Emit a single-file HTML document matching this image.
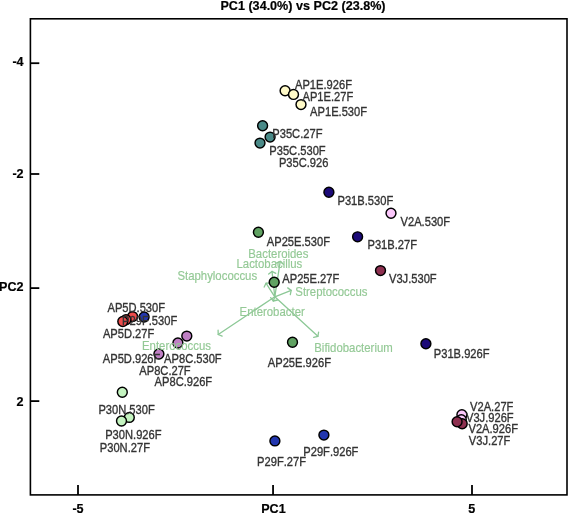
<!DOCTYPE html>
<html><head><meta charset="utf-8"><style>
html,body{margin:0;padding:0;background:#fff;width:568px;height:513px;overflow:hidden}
svg{display:block;will-change:transform;filter:blur(0.3px)}
text{font-family:"Liberation Sans",sans-serif;font-kerning:none}
</style></head><body>
<svg width="568" height="513" viewBox="0 0 568 513">
<text transform="translate(303,9.7) scale(1,1.05)" font-size="12.6" font-weight="bold" text-anchor="middle" fill="#000" stroke="#000" stroke-width="0.2">PC1 (34.0%) vs PC2 (23.8%)</text>
<g stroke="#000" stroke-width="1.6" fill="none">
<rect x="30.4" y="18.8" width="536.6" height="476.1"/>
<line x1="30" y1="63.2" x2="39.3" y2="63.2" stroke-width="1.8"/>
<line x1="30" y1="174.0" x2="39.3" y2="174.0" stroke-width="1.8"/>
<line x1="30" y1="288.1" x2="39.3" y2="288.1" stroke-width="1.8"/>
<line x1="30" y1="401.1" x2="39.3" y2="401.1" stroke-width="1.8"/>
<line x1="78.0" y1="495" x2="78.0" y2="484.9" stroke-width="1.8"/>
<line x1="273.05" y1="495" x2="273.05" y2="484.9" stroke-width="1.8"/>
<line x1="472.0" y1="495" x2="472.0" y2="484.9" stroke-width="1.8"/>
</g>
<g font-size="12.6" font-weight="bold" fill="#000" text-anchor="end" stroke="#000" stroke-width="0.2">
<text transform="translate(23.6,66.2) scale(1,1.05)">-4</text>
<text transform="translate(23.6,177.7) scale(1,1.05)">-2</text>
<text transform="translate(23.6,290.9) scale(1,1.05)">PC2</text>
<text transform="translate(23.6,405.7) scale(1,1.05)">2</text>
</g>
<g font-size="12.6" font-weight="bold" fill="#000" text-anchor="middle" stroke="#000" stroke-width="0.2">
<text transform="translate(78.0,513.3) scale(1,1.05)">-5</text>
<text transform="translate(273.4,513.3) scale(1,1.05)">PC1</text>
<text transform="translate(471.7,513.3) scale(1,1.05)">5</text>
</g>
<g stroke="#8cc896" stroke-width="1.3" fill="none" stroke-linecap="round" stroke-linejoin="round">
<line x1="274.8" y1="296.8" x2="280.2" y2="261.3"/><polyline points="283.4,264.2 280.2,261.3 276.3,263.1"/>
<line x1="274.8" y1="296.8" x2="272.0" y2="271.4"/><polyline points="275.8,273.3 272.0,271.4 268.7,274.1"/>
<line x1="274.8" y1="296.8" x2="266.0" y2="283.2"/><polyline points="270.3,283.2 266.0,283.2 264.2,287.1"/>
<line x1="274.8" y1="296.8" x2="291.2" y2="290.4"/><polyline points="290.3,294.6 291.2,290.4 287.7,287.9"/>
<line x1="274.8" y1="296.8" x2="273.3" y2="301.0"/><polyline points="270.7,297.6 273.3,301.0 277.5,300.0"/>
<line x1="274.8" y1="296.8" x2="218.2" y2="334.5"/><polyline points="218.1,330.2 218.2,334.5 222.1,336.2"/>
<line x1="274.8" y1="296.8" x2="317.9" y2="336.3"/><polyline points="313.7,337.4 317.9,336.3 318.6,332.1"/>
</g>
<g stroke="#000" stroke-width="1.45">
<circle cx="285.1" cy="90.7" r="4.95" fill="#fffac8"/>
<circle cx="293.5" cy="94.4" r="4.95" fill="#fffac8"/>
<circle cx="301.0" cy="104.6" r="4.95" fill="#fffac8"/>
<circle cx="262.6" cy="125.7" r="4.95" fill="#4a8a88"/>
<circle cx="270.1" cy="137.1" r="4.95" fill="#4a8a88"/>
<circle cx="260.0" cy="143.1" r="4.95" fill="#4a8a88"/>
<circle cx="328.9" cy="192.2" r="4.95" fill="#1c0a78"/>
<circle cx="357.6" cy="236.8" r="4.95" fill="#1c0a78"/>
<circle cx="425.9" cy="343.8" r="4.95" fill="#1c0a78"/>
<circle cx="391.0" cy="213.2" r="4.95" fill="#fcc8fc"/>
<circle cx="461.9" cy="414.8" r="4.95" fill="#fcc8fc"/>
<circle cx="461.3" cy="419.7" r="4.95" fill="#fcc8fc"/>
<circle cx="380.5" cy="270.6" r="4.95" fill="#8e3050"/>
<circle cx="462.2" cy="423.7" r="4.95" fill="#8e3050"/>
<circle cx="457.1" cy="421.8" r="4.95" fill="#8e3050"/>
<circle cx="258.4" cy="232.2" r="4.95" fill="#60a262"/>
<circle cx="274.2" cy="282.3" r="4.95" fill="#60a262"/>
<circle cx="292.5" cy="342.2" r="4.95" fill="#60a262"/>
<circle cx="132.6" cy="316.6" r="4.95" fill="#ee4c4c"/>
<circle cx="126.0" cy="319.7" r="4.95" fill="#ee4c4c"/>
<circle cx="122.8" cy="321.5" r="4.95" fill="#ee4c4c"/>
<circle cx="144.1" cy="317.0" r="4.95" fill="#2236ae"/>
<circle cx="274.9" cy="440.9" r="4.95" fill="#2236ae"/>
<circle cx="323.9" cy="435.1" r="4.95" fill="#2236ae"/>
<circle cx="186.8" cy="336.1" r="4.95" fill="#bf7fc4"/>
<circle cx="177.9" cy="343.0" r="4.95" fill="#bf7fc4"/>
<circle cx="158.9" cy="354.0" r="4.95" fill="#bf7fc4"/>
<circle cx="122.3" cy="392.2" r="4.95" fill="#c4f4c0"/>
<circle cx="129.3" cy="417.4" r="4.95" fill="#c4f4c0"/>
<circle cx="121.5" cy="421.0" r="4.95" fill="#c4f4c0"/>
</g>
<g font-size="11.4" fill="#94c996" stroke="#94c996" stroke-width="0.15">
<text transform="translate(248.27,258.00) scale(1,1.05)">Bacteroides</text>
<text transform="translate(236.47,268.40) scale(1,1.05)">Lactobacillus</text>
<text transform="translate(177.39,279.80) scale(1,1.05)">Staphylococcus</text>
<text transform="translate(295.29,295.50) scale(1,1.05)">Streptococcus</text>
<text transform="translate(239.57,316.00) scale(1,1.05)">Enterobacter</text>
<text transform="translate(141.97,349.70) scale(1,1.05)">Enterococcus</text>
<text transform="translate(314.27,351.50) scale(1,1.05)">Bifidobacterium</text>
</g>
<g font-size="11.15" fill="#333" stroke="#333" stroke-width="0.3">
<text transform="translate(294.98,89.0) scale(1,1.08)">AP1E.926F</text>
<text transform="translate(302.48,101.2) scale(1,1.08)">AP1E.27F</text>
<text transform="translate(310.08,116.2) scale(1,1.08)">AP1E.530F</text>
<text transform="translate(272.29,137.9) scale(1,1.08)">P35C.27F</text>
<text transform="translate(269.29,155.3) scale(1,1.08)">P35C.530F</text>
<text transform="translate(278.89,166.7) scale(1,1.08)">P35C.926</text>
<text transform="translate(337.49,204.9) scale(1,1.08)">P31B.530F</text>
<text transform="translate(400.55,225.9) scale(1,1.08)">V2A.530F</text>
<text transform="translate(367.49,248.8) scale(1,1.08)">P31B.27F</text>
<text transform="translate(388.95,283.0) scale(1,1.08)">V3J.530F</text>
<text transform="translate(266.78,245.5) scale(1,1.08)">AP25E.530F</text>
<text transform="translate(282.28,282.6) scale(1,1.08)">AP25E.27F</text>
<text transform="translate(267.78,366.5) scale(1,1.08)">AP25E.926F</text>
<text transform="translate(107.48,311.9) scale(1,1.08)">AP5D.530F</text>
<text transform="translate(122.09,325.2) scale(1,1.08)">P29F.530F</text>
<text transform="translate(102.88,337.9) scale(1,1.08)">AP5D.27F</text>
<text transform="translate(102.78,362.5) scale(1,1.08)">AP5D.926F</text>
<text transform="translate(164.08,362.6) scale(1,1.08)">AP8C.530F</text>
<text transform="translate(139.28,374.7) scale(1,1.08)">AP8C.27F</text>
<text transform="translate(154.58,385.6) scale(1,1.08)">AP8C.926F</text>
<text transform="translate(98.39,414.2) scale(1,1.08)">P30N.530F</text>
<text transform="translate(105.19,439.3) scale(1,1.08)">P30N.926F</text>
<text transform="translate(99.79,451.5) scale(1,1.08)">P30N.27F</text>
<text transform="translate(303.29,455.5) scale(1,1.08)">P29F.926F</text>
<text transform="translate(257.09,465.9) scale(1,1.08)">P29F.27F</text>
<text transform="translate(433.79,357.6) scale(1,1.08)">P31B.926F</text>
<text transform="translate(470.05,410.7) scale(1,1.08)">V2A.27F</text>
<text transform="translate(465.95,421.5) scale(1,1.08)">V3J.926F</text>
<text transform="translate(468.45,433.0) scale(1,1.08)">V2A.926F</text>
<text transform="translate(468.85,445.4) scale(1,1.08)">V3J.27F</text>
</g>
</svg></body></html>
